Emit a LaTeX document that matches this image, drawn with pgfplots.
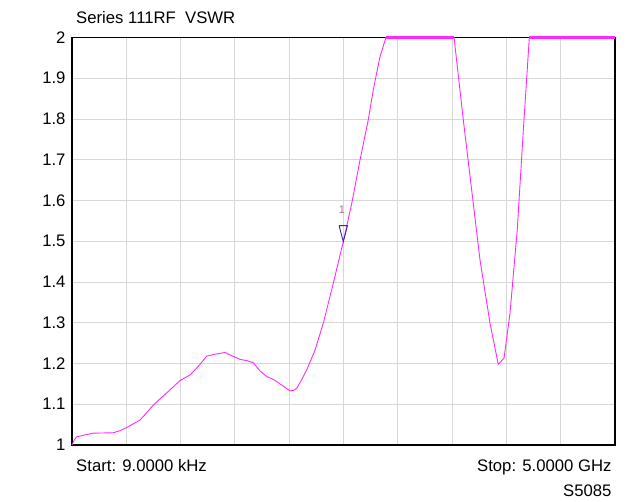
\documentclass[border=0pt]{standalone}
\usepackage{fontspec}
\setmainfont{Liberation Sans}
\usepackage{pgfplots}
\pgfplotsset{compat=1.18}
\definecolor{trace}{RGB}{255,40,255}
\definecolor{gridc}{RGB}{215,215,215}
\definecolor{mk}{RGB}{50,50,150}
\definecolor{mklbl}{RGB}{170,110,160}
\pgfplotsset{base/.style={
  scale only axis,
  width=543pt, height=407.5pt,
  xmin=0, xmax=5, ymin=1, ymax=2,
  clip=false,
}}
\begin{document}
\begin{tikzpicture}
\begin{axis}[
  base,
  xtick={0,0.5,...,5}, xticklabels={},
  ytick={1,1.1,1.2,1.3,1.4,1.5,1.6,1.7,1.8,1.9,2},
  yticklabels={1,1.1,1.2,1.3,1.4,1.5,1.6,1.7,1.8,1.9,2},
  major tick length=0pt,
  grid=major,
  grid style={gridc, line width=0.9pt},
  axis line style={black, line width=1.1pt},
  /pgf/number format/assume math mode=true,
  tick label style={font=\fontsize{16.7}{20}\selectfont},
  yticklabel style={xshift=-3pt},
]
\addplot[draw=none] coordinates {(0,1) (5,2)};
\end{axis}
\begin{axis}[base, hide axis]
\addplot[trace, line width=0.9pt] coordinates {
(0.000,1.000) (0.020,1.012) (0.043,1.020) (0.120,1.025) (0.196,1.029) (0.380,1.030)
(0.440,1.035) (0.504,1.043) (0.626,1.061) (0.690,1.080) (0.749,1.098) (0.810,1.113) (0.872,1.128) (0.930,1.142) (0.994,1.158)
(1.087,1.172) (1.170,1.195) (1.240,1.218) (1.320,1.223) (1.409,1.227)
(1.480,1.218) (1.547,1.210) (1.610,1.207) (1.669,1.202) (1.730,1.182) (1.793,1.168) (1.860,1.160) (1.915,1.150)
(2.007,1.133) (2.040,1.134) (2.069,1.139) (2.110,1.158) (2.161,1.184) (2.238,1.233) (2.314,1.299)
(2.406,1.397) (2.498,1.499) (2.576,1.593) (2.652,1.699) (2.728,1.798)
(2.774,1.871) (2.836,1.953) (2.891,2.000) (3.518,2.000) (3.603,1.798)
(3.695,1.593) (3.757,1.454) (3.849,1.299) (3.925,1.198) (3.978,1.213)
(4.033,1.323) (4.100,1.528) (4.156,1.773) (4.211,2.000) (5.000,2.000)
};
\addplot[trace, line width=2.2pt] coordinates {(2.891,2.000) (3.518,2.000)};
\addplot[trace, line width=2.2pt] coordinates {(4.211,2.000) (5.000,2.000)};
\addplot[mk, line width=0.9pt] coordinates {
(2.459,1.5385) (2.537,1.5385) (2.498,1.499) (2.459,1.5385)
};
\node[mklbl, font=\fontsize{11}{12}\selectfont, anchor=base] at (axis cs:2.485,1.567) {1};
\end{axis}
\node[anchor=base west, font=\fontsize{16.7}{20}\selectfont] at ([shift={(0.7pt,14.2pt)}]current axis.north west) {Series 111RF\ \ VSWR};
\node[anchor=base west, font=\fontsize{16.7}{20}\selectfont] at ([shift={(0.7pt,-26.7pt)}]current axis.south west) {Start: 9.0000 kHz};
\node[anchor=base east, font=\fontsize{16.7}{20}\selectfont] at ([shift={(0pt,-26.7pt)}]current axis.south east) {Stop: 5.0000 GHz};
\node[anchor=base east, font=\fontsize{16.7}{20}\selectfont] at ([shift={(0pt,-51.7pt)}]current axis.south east) {S5085};
\pgfresetboundingbox
\path ([shift={(-72pt,-57pt)}]current axis.south west) rectangle ([shift={(12pt,37.5pt)}]current axis.north east);
\end{tikzpicture}
\end{document}
